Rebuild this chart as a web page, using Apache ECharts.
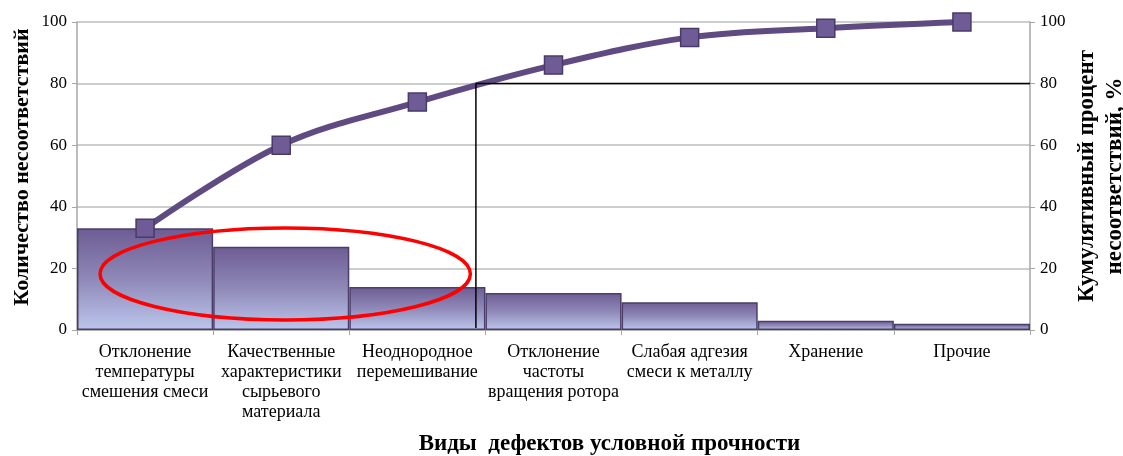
<!DOCTYPE html>
<html>
<head>
<meta charset="utf-8">
<script src="https://cdn.jsdelivr.net/npm/echarts@6/dist/echarts.min.js"></script>
<style>
  html, body { margin: 0; padding: 0; background: #fff; }
  #chart { width: 1123px; height: 456px; }
</style>
</head>
<body>
<div id="chart"></div>
<script>
"use strict";

var categories = [
  "Отклонение\nтемпературы\nсмешения смеси",
  "Качественные\nхарактеристики\nсырьевого\nматериала",
  "Неоднородное\nперемешивание",
  "Отклонение\nчастоты\nвращения ротора",
  "Слабая адгезия\nсмеси к металлу",
  "Хранение",
  "Прочие"
];
var defectCounts = [33, 27, 14, 12, 9, 3, 2];
var cumulativePercent = [33, 60, 74, 86, 95, 98, 100];
var yTicks = [0, 20, 40, 60, 80, 100];

var serif = "'Liberation Serif', 'DejaVu Serif', serif";

var chart = echarts.init(document.getElementById("chart"));

chart.setOption({
  animation: false,
  grid: {
    left: 77, right: 93, top: 22, bottom: 126,
    containLabel: false,
    outerBoundsMode: "none"
  },
  xAxis: {
    type: "category",
    data: categories,
    name: "Виды  дефектов условной прочности",
    nameLocation: "middle",
    nameGap: 103,
    nameMoveOverlap: false,
    nameTextStyle: {
      fontFamily: serif, fontSize: 23, fontWeight: "bold", color: "#000",
      padding: [0, 0, 0, 112]
    },
    axisLine: { lineStyle: { color: "#a6a6a6", width: 1.5 } },
    axisTick: { show: true, length: 5, lineStyle: { color: "#a6a6a6" } },
    axisLabel: {
      interval: 0, margin: 12, fontFamily: serif, fontSize: 18,
      color: "#000", lineHeight: 20
    }
  },
  yAxis: [
    {
      type: "value",
      min: yTicks[0], max: yTicks[yTicks.length - 1], interval: 20,
      name: "Количество несоответствий",
      nameLocation: "middle",
      nameGap: 44,
      nameMoveOverlap: false,
      nameTextStyle: {
        fontFamily: serif, fontSize: 22, fontWeight: "bold", color: "#000",
        padding: [0, 0, 0, 18]
      },
      axisLine: { show: true, lineStyle: { color: "#a6a6a6", width: 1.5 } },
      axisTick: { show: true, length: 5, lineStyle: { color: "#a6a6a6" } },
      axisLabel: { fontFamily: serif, fontSize: 17, color: "#000", margin: 10 },
      splitLine: { lineStyle: { color: "#bdbdbd", width: 1.5 } }
    },
    {
      type: "value",
      min: yTicks[0], max: yTicks[yTicks.length - 1], interval: 20,
      name: "Кумулятивный процент\nнесоответствий, %",
      nameLocation: "middle",
      nameGap: 43,
      nameMoveOverlap: false,
      nameRotate: 90,
      nameTextStyle: {
        fontFamily: serif, fontSize: 23, fontWeight: "bold", color: "#000", lineHeight: 28
      },
      axisLine: { show: true, lineStyle: { color: "#a6a6a6", width: 1.5 } },
      axisTick: { show: true, length: 5, lineStyle: { color: "#a6a6a6" } },
      axisLabel: { fontFamily: serif, fontSize: 17, color: "#000", margin: 10 },
      splitLine: { show: false }
    }
  ],
  series: [
    {
      name: "Количество",
      type: "bar",
      data: defectCounts,
      barCategoryGap: 0,
      itemStyle: {
        color: new echarts.graphic.LinearGradient(0, 0, 0, 1, [
          { offset: 0, color: "#6d5c93" },
          { offset: 0.5, color: "#8f89b8" },
          { offset: 1, color: "#bcc6ec" }
        ]),
        borderColor: "#4b3e68",
        borderWidth: 1.5
      },
      z: 2
    },
    {
      name: "Кумулятивный процент",
      type: "line",
      yAxisIndex: 1,
      data: cumulativePercent,
      smooth: 0.35,
      symbol: "rect",
      symbolSize: 18,
      lineStyle: { color: "#5f4a82", width: 6 },
      itemStyle: { color: "#6f5c96", borderColor: "#4a3a68", borderWidth: 1.5 },
      z: 4
    }
  ]
});

function drawOverlay() {
  var p2 = chart.convertToPixel({ xAxisIndex: 0 }, 2);
  var p3 = chart.convertToPixel({ xAxisIndex: 0 }, 3);
  var x0 = chart.convertToPixel({ yAxisIndex: 0 }, 0);
  var y80 = chart.convertToPixel({ yAxisIndex: 1 }, 80);
  var right = 1123 - 93;
  var vx = p2 + (p3 - p2) * 0.43;

  var c1 = chart.convertToPixel({ xAxisIndex: 0 }, 1);
  var cy = chart.convertToPixel({ yAxisIndex: 0 }, 18.2);
  var step = p3 - p2;

  chart.setOption({
    graphic: [
      {
        type: "line",
        shape: { x1: vx, y1: x0 - 2, x2: vx, y2: y80 },
        style: { stroke: "#000", lineWidth: 1.5 },
        z: 10
      },
      {
        type: "line",
        shape: { x1: vx, y1: y80, x2: right, y2: y80 },
        style: { stroke: "#000", lineWidth: 1.5 },
        z: 10
      },
      {
        type: "ellipse",
        shape: { cx: c1 + 4, cy: cy, rx: step * 1.36, ry: 46 },
        style: { fill: null, stroke: "#ff0000", lineWidth: 3.5 },
        z: 10
      }
    ]
  });
}
drawOverlay();
</script>
</body>
</html>
